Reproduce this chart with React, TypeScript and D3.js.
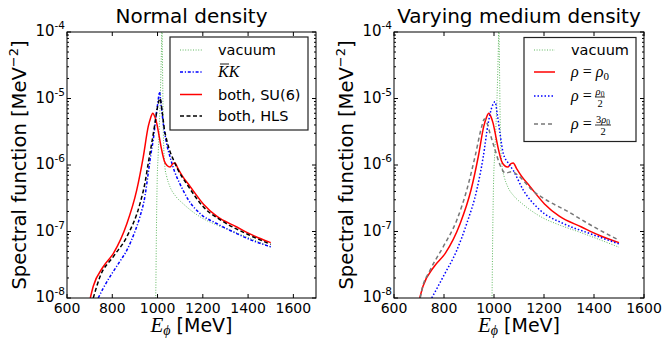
import * as d3 from 'd3'

type Pt = [number, number];

// energies in MeV, spectral function in MeV^-2
const vacuum: Pt[] = [
  [990, 4e-9], [992, 1e-8], [995, 1e-7], [998, 5e-7], [1003, 1.5e-6], [1008, 4e-6], [1012, 1e-5],
  [1015, 2.5e-5], [1017.5, 6e-5], [1019.5, 1.5e-4], [1021, 6e-5], [1023, 1.5e-5], [1025, 4e-6],
  [1028, 1.6e-6], [1033, 9e-7], [1040, 6.8e-7], [1055, 4.7e-7], [1080, 3.4e-7], [1114, 2.6e-7],
  [1188, 1.66e-7], [1260, 1.26e-7], [1335, 1.0e-7], [1420, 7.6e-8], [1500, 5.8e-8],
];
const bothSU6: Pt[] = [
  [703, 1.0e-8], [716, 1.5e-8], [760, 2.95e-8], [805, 4.7e-8], [864, 1.3e-7], [908, 4.2e-7],
  [937, 1.33e-6], [959, 3.8e-6], [970, 5.2e-6], [979, 6.0e-6], [988, 5.3e-6], [996, 4.3e-6],
  [1008, 2.6e-6], [1018, 1.7e-6], [1030, 1.15e-6], [1042, 9.8e-7], [1055, 9.3e-7], [1068, 1.05e-6],
  [1077, 1.07e-6], [1090, 8.9e-7], [1110, 6.8e-7], [1143, 4.8e-7], [1202, 2.6e-7], [1261, 1.7e-7],
  [1350, 1.17e-7], [1420, 8.8e-8], [1500, 6.8e-8],
];
const kbark: Pt[] = [
  [738, 1.0e-8], [760, 1.4e-8], [790, 2.1e-8], [830, 3.4e-8], [864, 5.2e-8], [900, 1.0e-7],
  [922, 1.66e-7], [945, 3.5e-7], [959, 7.6e-7], [970, 1.4e-6], [981, 2.4e-6], [995, 6.0e-6],
  [1003, 9.5e-6], [1008, 1.25e-5], [1015, 8.5e-6], [1025, 4.3e-6], [1040, 2.1e-6], [1055, 1.33e-6],
  [1075, 8.0e-7], [1099, 5.2e-7], [1136, 3.0e-7], [1188, 1.86e-7], [1261, 1.32e-7], [1350, 9.3e-8],
  [1420, 7.3e-8], [1500, 5.9e-8],
];
const bothHLS: Pt[] = [
  [716, 1.0e-8], [746, 2.1e-8], [805, 4.2e-8], [864, 8.3e-8], [922, 2.6e-7], [945, 5.5e-7],
  [959, 1.07e-6], [975, 2.2e-6], [989, 4.3e-6], [1000, 7.5e-6], [1011, 1.0e-5], [1020, 6.5e-6],
  [1030, 3.5e-6], [1040, 2.4e-6], [1055, 1.6e-6], [1070, 1.2e-6], [1090, 8.5e-7], [1129, 5.2e-7],
  [1202, 2.35e-7], [1290, 1.41e-7], [1400, 9.0e-8], [1500, 6.4e-8],
];
const halfRho: Pt[] = [
  [751, 1e-8], [797, 2.1e-8], [851, 5.2e-8], [891, 1.32e-7], [931, 4.2e-7], [957, 1.33e-6],
  [977, 4.3e-6], [992, 7.5e-6], [1004, 8.9e-6], [1014, 5.5e-6], [1024, 3.0e-6], [1037, 1.5e-6],
  [1057, 1.07e-6], [1077, 8.3e-7], [1117, 4.2e-7], [1184, 2.1e-7], [1277, 1.32e-7], [1384, 9.3e-8],
  [1500, 6.5e-8],
];
const threeHalfRho: Pt[] = [
  [705, 1e-8], [711, 1.3e-8], [744, 2.6e-8], [797, 5.9e-8], [851, 1.48e-7], [891, 4.2e-7],
  [924, 1.33e-6], [951, 3.8e-6], [961, 4.9e-6], [972, 4.3e-6], [984, 3.0e-6], [1004, 1.7e-6],
  [1024, 1.0e-6], [1045, 7.6e-7], [1072, 7.9e-7], [1100, 6.8e-7], [1152, 4.2e-7], [1211, 2.95e-7],
  [1285, 2.1e-7], [1400, 1.17e-7], [1500, 7.4e-8],
];

const xTicks = [600, 800, 1000, 1200, 1400, 1600];
const yTicks = [1e-8, 1e-7, 1e-6, 1e-5, 1e-4];

const SANS = 'DejaVu Sans';
const MATH = 'Liberation Serif';

type Series = { data: Pt[]; color: string; width: number; dash?: string; opacity?: number };

const sGreen: Series = { data: vacuum, color: '#2ca02c', width: 1, dash: '1,1.6', opacity: 0.75 };
const sRed: Series = { data: bothSU6, color: '#ff0000', width: 1.5 };
const sBlue: Series = { data: kbark, color: '#0000ff', width: 1.5, dash: '3,1.8,1.2,1.8' };
const sBlack: Series = { data: bothHLS, color: '#000000', width: 1.5, dash: '4,2.5' };
const sBlueHalf: Series = { data: halfRho, color: '#0000ff', width: 1.5, dash: '1.5,2' };
const sGray: Series = { data: threeHalfRho, color: '#777777', width: 1.5, dash: '4,3' };

const Y0 = 32, Y1 = 298;

type LegendItem = { s: Series; label: (x: number, y: number) => JSX.Element; dy: number };

const Panel = ({ id, x0, x1, xMax, title, series, legend, box, lineX, textX }: {
  id: string; x0: number; x1: number; xMax: number; title: string; series: Series[];
  legend: LegendItem[]; box: [number, number, number, number]; lineX: [number, number]; textX: number;
}) => {
  const x = d3.scaleLinear().domain([600, xMax]).range([x0, x1]);
  const y = d3.scaleLog().domain([1e-8, 1e-4]).range([Y1, Y0]);
  const line = d3.line<Pt>().x(d => x(d[0])).y(d => y(d[1])).curve(d3.curveMonotoneX);
  const minor = y.ticks().filter(t => !yTicks.some(m => Math.abs(m - t) / m < 1e-6));
  const cx = (x0 + x1) / 2;
  return (
    <g>
      <defs>
        <clipPath id={id}>
          <rect x={x0} y={Y0} width={x1 - x0} height={Y1 - Y0} />
        </clipPath>
      </defs>
      <g clipPath={`url(#${id})`}>
        {series.map((s, i) => (
          <path key={i} d={line(s.data) ?? ''} fill="none" stroke={s.color} strokeWidth={s.width}
            strokeDasharray={s.dash} strokeOpacity={s.opacity ?? 1} />
        ))}
      </g>
      {/* ticks inside, all sides */}
      {xTicks.filter(t => t <= xMax).map(t => (
        <g key={t}>
          <line x1={x(t)} x2={x(t)} y1={Y1} y2={Y1 - 4} stroke="#000" />
          <line x1={x(t)} x2={x(t)} y1={Y0} y2={Y0 + 4} stroke="#000" />
          <text x={x(t)} y={313} textAnchor="middle" fontFamily={SANS} fontSize={14}>{t}</text>
        </g>
      ))}
      {yTicks.map(t => (
        <g key={t}>
          <line x1={x0} x2={x0 + 4} y1={y(t)} y2={y(t)} stroke="#000" />
          <line x1={x1} x2={x1 - 4} y1={y(t)} y2={y(t)} stroke="#000" />
          <text x={x0 - 2} y={y(t) + 4} textAnchor="end" fontFamily={SANS} fontSize={15}>
            10<tspan dy={-7} fontSize={10.5}>-{-Math.round(Math.log10(t))}</tspan>
          </text>
        </g>
      ))}
      {minor.map(t => (
        <g key={t}>
          <line x1={x0} x2={x0 + 2} y1={y(t)} y2={y(t)} stroke="#000" />
          <line x1={x1} x2={x1 - 2} y1={y(t)} y2={y(t)} stroke="#000" />
        </g>
      ))}
      <rect x={x0} y={Y0} width={x1 - x0} height={Y1 - Y0} fill="none" stroke="#000" strokeWidth={1} />
      <text x={cx} y={23} textAnchor="middle" fontFamily={SANS} fontSize={20}>{title}</text>
      <text transform={`translate(${x0 - 41},${(Y0 + Y1) / 2}) rotate(-90)`} textAnchor="middle"
        fontFamily={SANS} fontSize={19.5}>
        Spectral function [MeV<tspan dy={-8} fontSize={13}>−2</tspan><tspan dy={8}>]</tspan>
      </text>
      <text x={cx} y={332} textAnchor="middle" fontFamily={SANS} fontSize={19}>
        <tspan fontFamily={MATH} fontStyle="italic" fontSize={21}>E</tspan>
        <tspan fontFamily={MATH} fontStyle="italic" fontSize={14} dy={3}>ϕ</tspan>
        <tspan dy={-3}> [MeV]</tspan>
      </text>
      {/* legend */}
      <rect x={box[0]} y={box[1]} width={box[2]} height={box[3]} fill="#fff" stroke="#222" strokeWidth={1.2} />
      {legend.map((it, i) => (
        <g key={i}>
          <line x1={lineX[0]} x2={lineX[1]} y1={it.dy} y2={it.dy} stroke={it.s.color}
            strokeWidth={it.s.width} strokeDasharray={it.s.dash} strokeOpacity={it.s.opacity ?? 1} />
          {it.label(textX, it.dy + 5)}
        </g>
      ))}
    </g>
  );
};

const plain = (txt: string) => (x: number, y: number) => (
  <text x={x} y={y} fontFamily={SANS} fontSize={14.5}>{txt}</text>
);

const kbarLabel = (x: number, y: number) => (
  <g>
    <text x={x} y={y} fontFamily={MATH} fontStyle="italic" fontSize={16}>KK</text>
    <line x1={x + 2} x2={x + 11} y1={y - 13} y2={y - 13} stroke="#000" strokeWidth={0.9} />
  </g>
);

const rhoEq = (x: number, y: number) => (
  <text x={x} y={y} fontFamily={MATH} fontSize={16}>
    <tspan fontStyle="italic">ρ</tspan> = <tspan fontStyle="italic">ρ</tspan>
    <tspan fontSize={11} dy={3}>0</tspan>
  </text>
);

const rhoFrac = (num: string) => (x: number, y: number) => {
  const w = num ? 16 : 10;
  const fx = x + 24;
  return (
    <g fontFamily={MATH}>
      <text x={x} y={y} fontSize={16}><tspan fontStyle="italic">ρ</tspan> =</text>
      <text x={fx + w / 2} y={y - 6} fontSize={10.5} textAnchor="middle">
        {num}<tspan fontStyle="italic">ρ</tspan><tspan fontSize={7.5} dy={2}>0</tspan>
      </text>
      <line x1={fx} x2={fx + w} y1={y - 4} y2={y - 4} stroke="#000" strokeWidth={0.8} />
      <text x={fx + w / 2} y={y + 6} fontSize={10.5} textAnchor="middle">2</text>
    </g>
  );
};

export default function App() {
  return (
    <svg width={664} height={339} style={{ display: 'block', position: 'absolute', left: 0, top: 0, background: '#fff' }}>
      <Panel id="clipL" x0={67} x1={316} xMax={1700} title="Normal density"
        series={[sGreen, sBlue, sRed, sBlack]}
        legend={[
          { s: sGreen, label: plain('vacuum'), dy: 50 },
          { s: sBlue, label: kbarLabel, dy: 72 },
          { s: sRed, label: plain('both, SU(6)'), dy: 94.5 },
          { s: sBlack, label: plain('both, HLS'), dy: 116 },
        ]}
        box={[170, 37, 138, 93]} lineX={[180, 202]} textX={218} />
      <Panel id="clipR" x0={394} x1={644} xMax={1600} title="Varying medium density"
        series={[sGreen, sRed, sBlueHalf, sGray]}
        legend={[
          { s: sGreen, label: plain('vacuum'), dy: 50 },
          { s: sRed, label: rhoEq, dy: 72 },
          { s: sBlueHalf, label: rhoFrac(''), dy: 96 },
          { s: sGray, label: rhoFrac('3'), dy: 124 },
        ]}
        box={[524, 37.5, 112, 104]} lineX={[534, 555]} textX={571} />
    </svg>
  );
}
